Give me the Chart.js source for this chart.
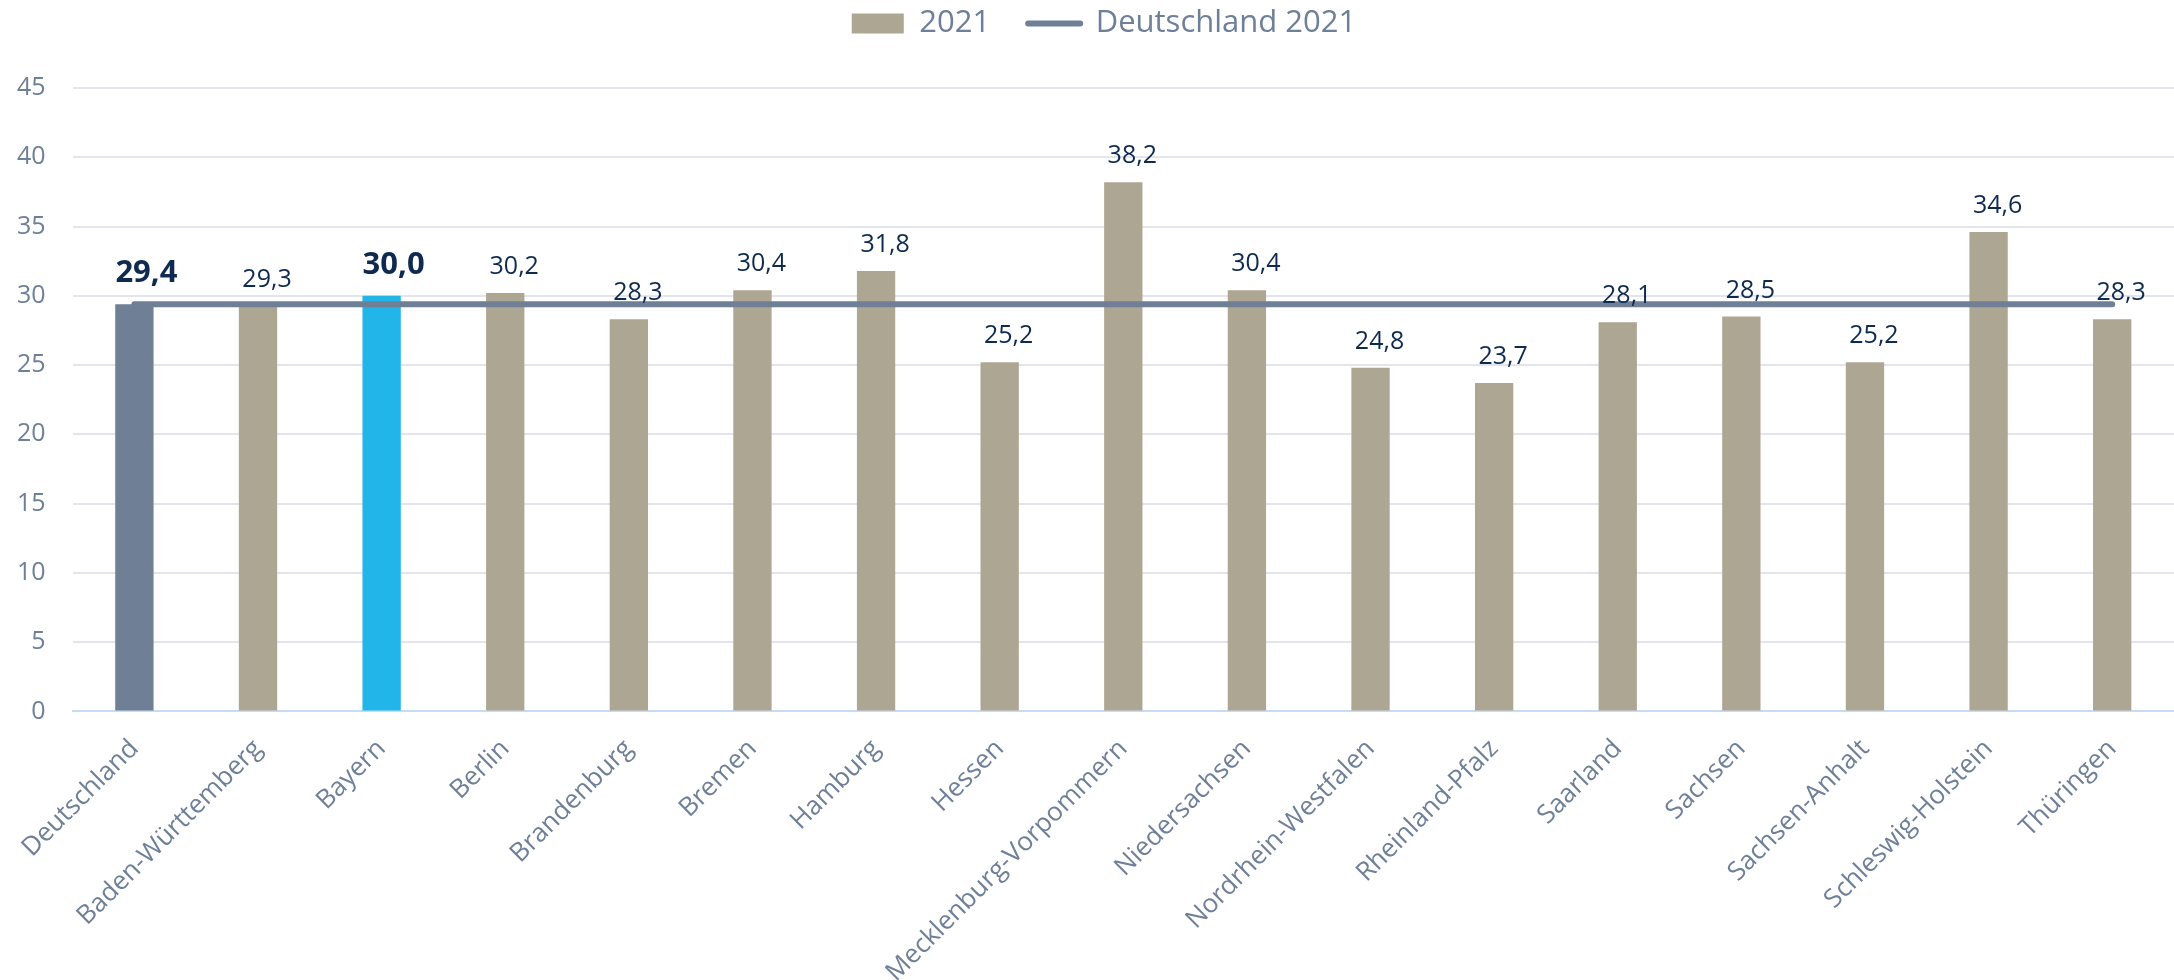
<!DOCTYPE html>
<html lang="de">
<head>
<meta charset="utf-8">
<title>2021 – Bundesländer</title>
<script src="https://cdn.jsdelivr.net/npm/chart.js@4/dist/chart.umd.min.js"></script>
<style>
  html, body { margin: 0; padding: 0; background: #fff; }
  #wrap { width: 2174px; height: 980px; position: relative; }
</style>
</head>
<body>
<div id="wrap"><canvas id="chart2021"></canvas></div>
<script>
// Werte
const laender = [
    'Deutschland', 'Baden-Württemberg', 'Bayern', 'Berlin', 'Brandenburg',
    'Bremen', 'Hamburg', 'Hessen', 'Mecklenburg-Vorpommern', 'Niedersachsen',
    'Nordrhein-Westfalen', 'Rheinland-Pfalz', 'Saarland', 'Sachsen',
    'Sachsen-Anhalt', 'Schleswig-Holstein', 'Thüringen'
];
const werte2021 = [29.4, 29.3, 30.0, 30.2, 28.3, 30.4, 31.8, 25.2, 38.2, 30.4, 24.8, 23.7, 28.1, 28.5, 25.2, 34.6, 28.3];
const deutschland2021 = [29.4, 29.4, 29.4, 29.4, 29.4, 29.4, 29.4, 29.4, 29.4, 29.4, 29.4, 29.4, 29.4, 29.4, 29.4, 29.4, 29.4];
const yTicks = [0, 5, 10, 15, 20, 25, 30, 35, 40, 45];
const hervorgehoben = ['Deutschland', 'Bayern'];

const FONT = '"Open Sans", "Noto Sans", sans-serif';
const farbeBar = '#ADA692';
const farbeDE = '#6F7F95';
const farbeBY = '#21B5E9';
const farbeText = '#6E7F98';
const farbeLabel = '#0E2A50';

const barFarben = laender.map(l => l === 'Deutschland' ? farbeDE : (l === 'Bayern' ? farbeBY : farbeBar));

// Werte über den Balken
const wertLabels = {
    id: 'wertLabels',
    afterDatasetsDraw(chart) {
        const meta = chart.getDatasetMeta(0);
        const ctx = chart.ctx;
        ctx.save();
        ctx.textAlign = 'center';
        ctx.textBaseline = 'alphabetic';
        ctx.fillStyle = farbeLabel;
        meta.data.forEach((bar, i) => {
            const fett = hervorgehoben.includes(laender[i]);
            ctx.font = (fett ? 'bold 31px ' : '25px ') + FONT;
            const text = werte2021[i].toFixed(1).replace('.', ',');
            ctx.fillText(text, bar.x + (fett ? 12 : 9), bar.y - (fett ? 22 : 19));
        });
        ctx.restore();
    }
};

// Legende weiter nach oben / etwas nach rechts, Platz darunter anpassen
const legendenPlatz = {
    id: 'legendenPlatz',
    beforeInit(chart) {
        if (!chart.legend) return;
        const fit = chart.legend.fit;
        chart.legend.fit = function() {
            fit.call(this);
            this.height += 9;
        };
        const draw = chart.legend.draw;
        chart.legend.draw = function() {
            const {top, left, right} = this;
            this.top = top - 30;
            this.left = left + 22;
            this.right = right + 22;
            draw.call(this);
            this.top = top;
            this.left = left;
            this.right = right;
        };
    }
};

const chart2021 = new Chart(document.getElementById('chart2021'), {
    data: {
        labels: laender,
        datasets: [{
            type: 'bar',
            label: '2021',
            data: werte2021,
            backgroundColor: barFarben,
            barPercentage: 0.31,
            categoryPercentage: 1,
            order: 1
        }, {
            type: 'line',
            label: 'Deutschland 2021',
            data: deutschland2021,
            borderColor: farbeDE,
            backgroundColor: farbeDE,
            borderWidth: 6,
            borderCapStyle: 'round',
            pointRadius: 0,
            pointHoverRadius: 0,
            fill: false,
            order: 0
        }]
    },
    options: {
        responsive: true,
        maintainAspectRatio: false,
        animation: false,
        // Achsen rechnen das Tick-Padding doppelt, daher negativ
        layout: { padding: { left: -10, right: 0, top: 0, bottom: -22 } },
        plugins: {
            tooltip: { enabled: false },
            legend: {
                position: 'top',
                labels: {
                    usePointStyle: true,
                    pointStyleWidth: 52,
                    boxHeight: 20,
                    padding: 38,
                    color: farbeText,
                    font: { family: FONT, size: 31 },
                    generateLabels(chart) {
                        const items = Chart.defaults.plugins.legend.labels.generateLabels(chart);
                        items.sort((a, b) => a.datasetIndex - b.datasetIndex);
                        items.forEach(it => {
                            if (it.datasetIndex === 0) {
                                it.pointStyle = 'rect';
                                it.fillStyle = farbeBar;
                                it.strokeStyle = farbeBar;
                                it.lineWidth = 0;
                            } else {
                                it.pointStyle = 'line';
                                it.strokeStyle = farbeDE;
                                it.lineWidth = 6;
                                it.lineCap = 'round';
                            }
                        });
                        return items;
                    }
                }
            }
        },
        scales: {
            x: {
                afterFit(scale) {
                    // erste schräge Beschriftung darf links überstehen
                    scale.paddingLeft = 0;
                    scale.paddingRight = 0;
                    scale.getPadding = () => ({ left: 0, top: 0, right: 0, bottom: 0 });
                },
                grid: { display: false },
                border: { display: true, color: '#C5DCF4', width: 2 },
                ticks: {
                    autoSkip: false,
                    minRotation: 45,
                    maxRotation: 45,
                    padding: 14,
                    color: farbeText,
                    font: { family: FONT, size: 26 }
                }
            },
            y: {
                min: 0,
                max: 45,
                afterBuildTicks(scale) {
                    scale.ticks = yTicks.map(v => ({ value: v }));
                },
                grid: { color: '#E2E5EB', lineWidth: 2, drawTicks: false },
                border: { display: false },
                ticks: {
                    padding: 27,
                    color: farbeText,
                    font: { family: FONT, size: 25 }
                }
            }
        }
    },
    plugins: [wertLabels, legendenPlatz]
});
</script>
</body>
</html>
